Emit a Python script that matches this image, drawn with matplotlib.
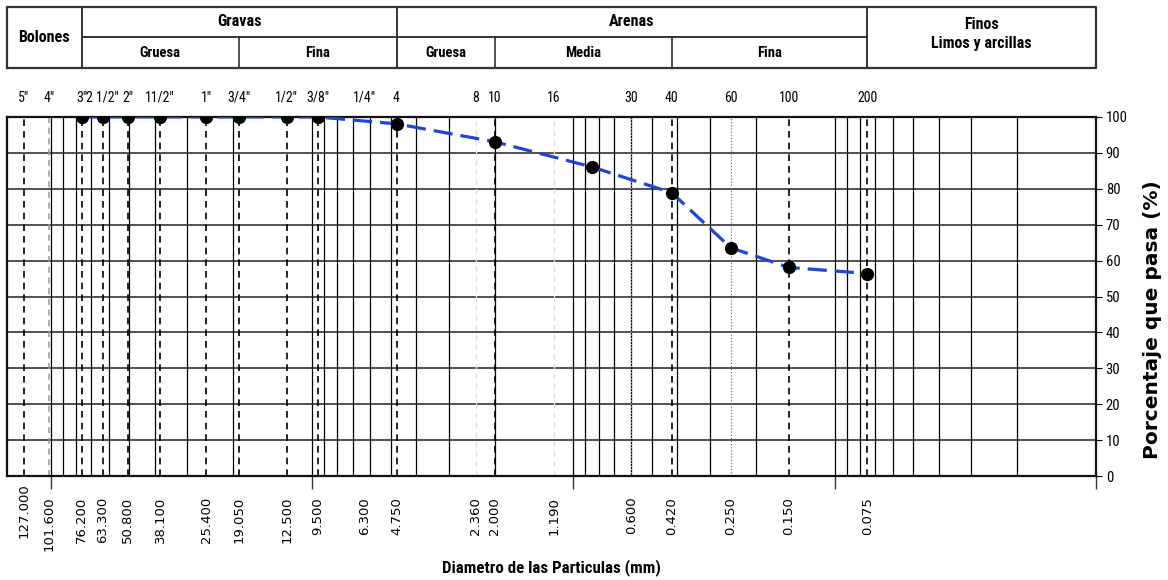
import matplotlib
matplotlib.use('Agg')
import matplotlib.pyplot as plt
from matplotlib import font_manager
from matplotlib.ticker import LogLocator, NullFormatter, MultipleLocator

# fuente estrecha si existe, si no Liberation Sans
_names = {f.name for f in font_manager.fontManager.ttflist}
_narrow = [n for n in ['Liberation Sans Narrow', 'Roboto Condensed', 'Open Sans Condensed']
           if n in _names]
NARROW = _narrow[:1] + ['Liberation Sans', 'DejaVu Sans']
WIDE = ['DejaVu Sans']

# tamices (nombre arriba, abertura en mm abajo)
sieve_names = ['5"', '4"', '3"', '2 1/2"', '2"', '11/2"', '1"', '3/4"', '1/2"', '3/8"',
               '1/4"', '4', '8', '10', '16', '30', '40', '60', '100', '200']
sieve_mm = [127.0, 101.6, 76.2, 63.3, 50.8, 38.1, 25.4, 19.05, 12.5, 9.5,
            6.3, 4.75, 2.36, 2.0, 1.19, 0.6, 0.42, 0.25, 0.15, 0.075]

# curva granulometrica
diam = [76.2, 63.3, 50.8, 38.1, 25.4, 19.05, 12.5, 9.5, 4.75, 2.0, 0.85, 0.42, 0.25, 0.15, 0.075]
passing = [100, 100, 100, 100, 100, 100, 100, 100, 98.1, 93.1, 86.1, 78.9, 63.6, 58.1, 56.4]

# cabecera de clasificacion
groups = ['Bolones', 'Gravas', 'Arenas', 'Finos\nLimos y arcillas']
group_limits = [147, 76.2, 4.75, 0.075, 0.01]
sub_names = ['Gruesa', 'Fina', 'Gruesa', 'Media', 'Fina']
sub_limits = [76.2, 19.05, 4.75, 2.0, 0.42, 0.075]

xmin, xmax = 147, 0.01
narrow_ok = bool(_narrow)
k = 1.0 if narrow_ok else 0.88   # texto mas chico si no hay fuente estrecha

fig = plt.figure(figsize=(11.68, 5.8), dpi=100)
ax = fig.add_axes([7/1168, 1-476/580, 1089/1168, 359/580])
ax.set_xscale('log')
ax.set_xlim(xmin, xmax)
ax.set_ylim(0, 100)
ax.set_axisbelow(True)

ax.xaxis.set_major_locator(LogLocator(base=10))
ax.xaxis.set_minor_locator(LogLocator(base=10, subs=range(2, 10), numticks=20))
ax.xaxis.set_major_formatter(NullFormatter())
ax.xaxis.set_minor_formatter(NullFormatter())
ax.yaxis.set_major_locator(MultipleLocator(10))
ax.grid(which='both', axis='x', color='black', lw=0.9)
ax.grid(which='major', axis='y', color='#222222', lw=1.1)
ax.tick_params(axis='x', which='major', direction='out', length=9, width=1, color='#333333')
ax.tick_params(axis='x', which='minor', length=0)
ax.yaxis.tick_right()
ax.tick_params(axis='y', direction='out', length=4, width=0.8, pad=3, labelsize=10.5 * k)
for lab in ax.get_yticklabels():
    lab.set_family(NARROW)
for s in ax.spines.values():
    s.set_linewidth(1.6)
    s.set_color('#111111')

# lineas de tamices
for name, d in zip(sieve_names, sieve_mm):
    if d == 6.3:
        pass
    elif d == 101.6:
        ax.axvline(d, color='#999999', lw=1.1, ls=(0, (4, 3)), zorder=1.5)
    elif d in (2.36, 1.19):
        ax.axvline(d, color='#dddddd', lw=1.0, ls=(0, (4, 3)), zorder=1.5)
    elif d == 0.6:
        ax.axvline(d, color='#aaaaaa', lw=0.9, ls=(0, (1, 1.5)), zorder=1.5)
    elif d == 0.25:
        ax.axvline(d, color='#6a6ad0', lw=0.9, ls=(0, (1, 1.5)), zorder=1.5)
    else:
        ax.axvline(d, color='black', lw=1.2, ls=(0, (4, 3)), zorder=1.5)

    ax.annotate(name, xy=(d, 1), xycoords=('data', 'axes fraction'),
                xytext=(0, 14), textcoords='offset points', ha='center', va='center',
                fontsize=10 * k, family=NARROW)
    dy = -5 if d == 127.0 else -15
    ax.annotate(f'{d:.3f}', xy=(d, 0), xycoords=('data', 'axes fraction'),
                xytext=(0, dy), textcoords='offset points', ha='center', va='top',
                rotation=90, fontsize=9.5, family=WIDE)

ax.plot(diam, passing, color='#1f45d6', lw=2.3, ls=(0, (6, 2.5)), zorder=3)
ax.plot(diam, passing, 'o', color='black', ms=8.5, zorder=4)

ax.text(0.5, -0.255, 'Diametro de las Particulas (mm)', transform=ax.transAxes,
        ha='center', va='center', fontsize=12.2 * (1.0 if narrow_ok else 0.88),
        fontweight='bold', family=NARROW)
fig.text(1152/1168, 1-320/580, 'Porcentaje que pasa (%)', rotation=90,
         ha='center', va='center', fontsize=14.5, fontweight='bold', family=WIDE)

# cabecera
hax = fig.add_axes([7/1168, 1-68/580, 1089/1168, 61/580])
hax.set_xscale('log')
hax.set_xlim(xmin, xmax)
hax.set_ylim(0, 1)
hax.axis('off')
hc = '#333333'
mid = 0.508
hax.plot([xmin, xmax, xmax, xmin, xmin], [0, 0, 1, 1, 0], color=hc, lw=1.6, clip_on=False)
for d in group_limits[1:-1]:
    hax.plot([d, d], [0, 1], color=hc, lw=1.4, clip_on=False)
hax.plot([sub_limits[0], sub_limits[-1]], [mid, mid], color=hc, lw=1.4)
for d in [19.05, 2.0, 0.42]:
    hax.plot([d, d], [0, mid], color=hc, lw=1.2)

for i, g in enumerate(groups):
    a, b = group_limits[i], group_limits[i + 1]
    xc = (a * b) ** 0.5
    if g == 'Bolones':
        yc = 0.5
    elif g.startswith('Finos'):
        yc = 0.56
    else:
        yc = 0.76
    hax.text(xc, yc, g, ha='center', va='center', fontsize=11.5, fontweight='bold',
             family=NARROW, linespacing=1.35)
for i, s in enumerate(sub_names):
    a, b = sub_limits[i], sub_limits[i + 1]
    hax.text((a * b) ** 0.5, 0.25, s, ha='center', va='center', fontsize=10.5,
             fontweight='bold', family=NARROW)

fig.savefig('out.png', dpi=100)
